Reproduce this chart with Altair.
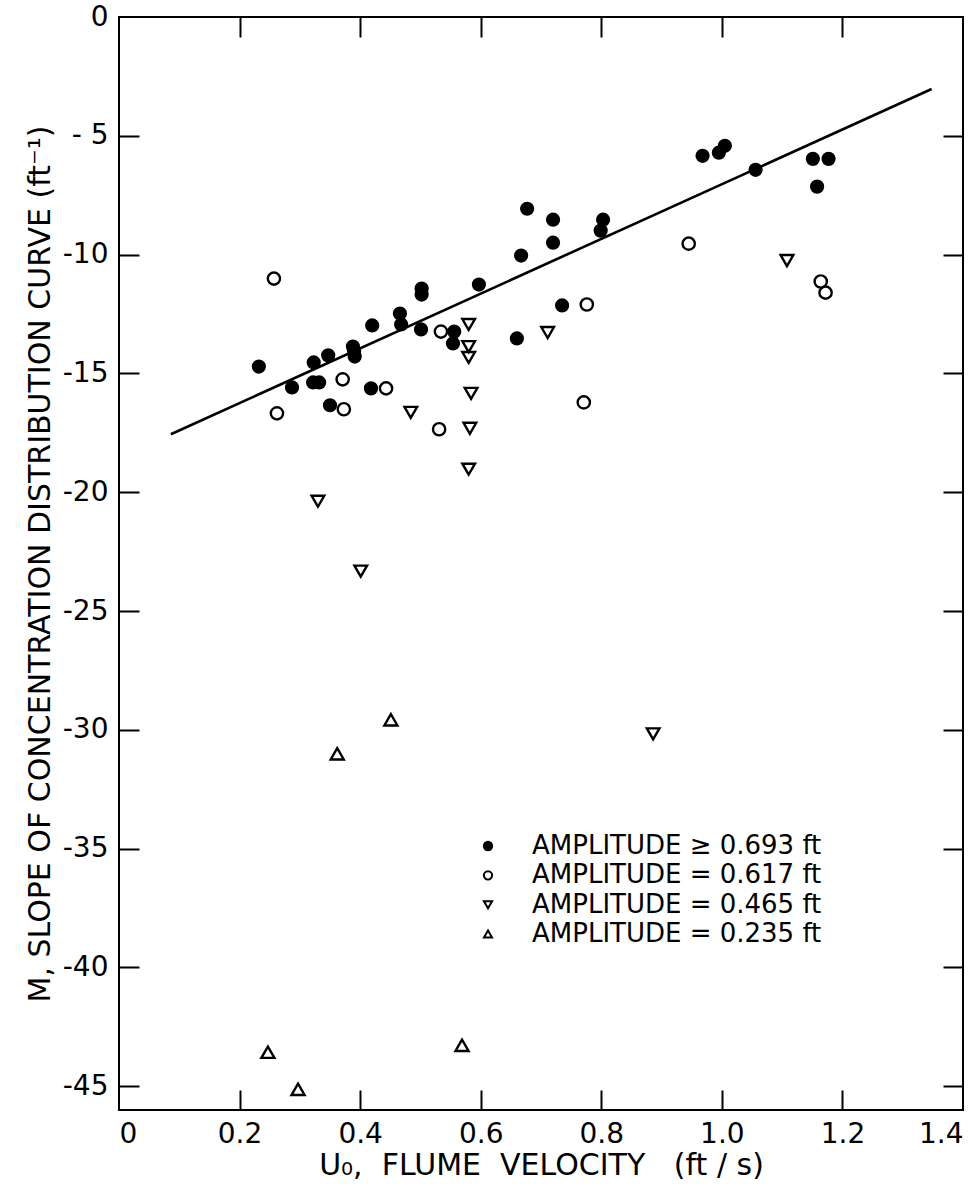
import altair as alt
import pandas as pd

# ---- data ----
filled_u = [0.232, 0.287, 0.323, 0.347, 0.322, 0.332, 0.350, 0.420, 0.388, 0.390,
            0.391, 0.418, 0.466, 0.468, 0.501, 0.502, 0.502, 0.556, 0.554, 0.597,
            0.660, 0.667, 0.677, 0.720, 0.720, 0.735, 0.803, 0.799, 0.968, 0.995,
            1.005, 1.056, 1.151, 1.177, 1.158]
filled_m = [-14.71, -15.59, -14.54, -14.24, -15.38, -15.38, -16.34, -12.98, -13.87, -14.08,
            -14.29, -15.63, -12.48, -12.94, -13.15, -11.43, -11.68, -13.24, -13.74, -11.26,
            -13.53, -10.04, -8.07, -8.53, -9.50, -12.14, -8.53, -8.99, -5.84, -5.71,
            -5.42, -6.43, -5.97, -5.97, -7.14]

open_u = [0.257, 0.262, 0.371, 0.373, 0.443, 0.531, 0.534, 0.776, 0.771, 0.945, 1.164, 1.172]
open_m = [-11.01, -16.68, -15.25, -16.51, -15.63, -17.35, -13.24, -12.10, -16.22, -9.54, -11.13, -11.60]

tdown_u = [0.330, 0.401, 0.484, 0.580, 0.580, 0.580, 0.584, 0.582, 0.580, 0.711, 1.108, 0.886]
tdown_m = [-20.38, -23.32, -16.64, -12.94, -13.87, -14.33, -15.84, -17.31, -19.03, -13.28, -10.25, -30.17]

tup_u = [0.451, 0.362, 0.247, 0.297, 0.569]
tup_m = [-29.58, -31.01, -43.57, -45.13, -43.28]

fit_u = [0.086, 1.348]
fit_m = [-17.56, -3.03]

groups = ["AMPLITUDE \u2265 0.693 ft", "AMPLITUDE = 0.617 ft",
          "AMPLITUDE = 0.465 ft", "AMPLITUDE = 0.235 ft"]

x_ticks = [0.2, 0.4, 0.6, 0.8, 1.0, 1.2]
x_labels = [0, 0.2, 0.4, 0.6, 0.8, 1.0, 1.2, 1.4]
y_ticks = [-5, -10, -15, -20, -25, -30, -35, -40, -45]
y_labels = [0, -5, -10, -15, -20, -25, -30, -35, -40, -45]

# ---- tables ----
rows = []
for us, ms, g in [(filled_u, filled_m, groups[0]), (open_u, open_m, groups[1]),
                  (tdown_u, tdown_m, groups[2]), (tup_u, tup_m, groups[3])]:
    for u, m in zip(us, ms):
        rows.append({"u": u, "m": m, "group": g})
pts = pd.DataFrame(rows)
fit = pd.DataFrame({"u": fit_u, "m": fit_m})
leg_df = pd.DataFrame({"group": groups})

W, H = 844, 1093
FONT = "DejaVu Sans"
xscale = alt.Scale(domain=[0, 1.4], nice=False, zero=False)
yscale = alt.Scale(domain=[-46, 0], nice=False, zero=False)
shape_enc = alt.Shape("group:N", scale=alt.Scale(domain=groups,
                      range=["circle", "circle", "triangle-down", "triangle-up"]), legend=None)
fill_enc = alt.Fill("group:N", scale=alt.Scale(domain=groups,
                    range=["black", "transparent", "transparent", "transparent"]), legend=None)

points = alt.Chart(pts).mark_point(stroke="black", strokeWidth=2.4, opacity=1).encode(
    x=alt.X("u:Q", scale=xscale, axis=alt.Axis(
        values=x_labels, labelExpr="datum.value == 0 ? '0' : format(datum.value, '.1f')",
        title="U\u2080,\u00a0 FLUME\u00a0 VELOCITY\u00a0\u00a0 (ft / s)",
        tickSize=0, domain=False, grid=False, labelPadding=10,
        titleY=55, titleBaseline="middle")),
    y=alt.Y("m:Q", scale=yscale, axis=alt.Axis(
        values=y_labels,
        labelExpr="datum.value == 0 ? '0' : (abs(datum.value) < 10 ? '- ' : '-') + abs(datum.value)",
        title="M, SLOPE OF CONCENTRATION DISTRIBUTION CURVE (ft\u207b\u00b9)",
        tickSize=0, domain=False, grid=False, labelPadding=11,
        titleX=-79, titleBaseline="middle")),
    shape=shape_enc,
    fill=fill_enc,
    size=alt.Size("group:N", scale=alt.Scale(domain=groups, range=[140, 170, 340, 340]),
                  legend=None),
)

line = alt.Chart(fit).mark_line(color="black", strokeWidth=2.6).encode(
    x=alt.X("u:Q", scale=xscale, axis=alt.Axis(
        orient="top", offset=-H, values=x_ticks, labels=False, title=None,
        tickSize=20, tickWidth=2, tickColor="black", domain=False, grid=False)),
    y=alt.Y("m:Q", scale=yscale, axis=alt.Axis(
        orient="right", offset=-W, values=y_ticks, labels=False, title=None,
        tickSize=20, tickWidth=2, tickColor="black", domain=False, grid=False)),
)

ghost = alt.Chart(fit).mark_point(opacity=0).encode(
    x=alt.X("u:Q", scale=xscale, axis=alt.Axis(
        orient="bottom", offset=-H, values=x_ticks, labels=False, title=None,
        tickSize=20, tickWidth=2, tickColor="black", domain=False, grid=False)),
    y=alt.Y("m:Q", scale=yscale, axis=alt.Axis(
        orient="left", offset=-W, values=y_ticks, labels=False, title=None,
        tickSize=20, tickWidth=2, tickColor="black", domain=False, grid=False)),
)

# legend drawn as its own layer (rows placed by a point scale)
leg_y = alt.Y("group:N", scale=alt.Scale(type="point", domain=groups, range=[829, 917], padding=0),
              axis=None)
leg_sym = alt.Chart(leg_df).mark_point(stroke="black", strokeWidth=2, opacity=1).encode(
    x=alt.value(369), y=leg_y, shape=shape_enc, fill=fill_enc,
    size=alt.Size("group:N", scale=alt.Scale(domain=groups, range=[70, 65, 110, 110]), legend=None),
)
leg_txt = alt.Chart(leg_df).mark_text(
    align="left", baseline="middle", font=FONT, fontSize=26, color="black"
).encode(x=alt.value(413), y=leg_y, text="group:N")

chart = alt.layer(points, line, ghost, leg_sym, leg_txt).resolve_axis(
    x="independent", y="independent"
).resolve_scale(
    y="independent", size="independent"
).properties(
    width=W, height=H,
    padding={"left": 119, "top": 17, "right": 11, "bottom": 76},
    autosize=alt.AutoSizeParams(type="none"),
    background="white",
).configure_view(
    stroke="black", strokeWidth=2
).configure_axis(
    labelFont=FONT, titleFont=FONT, labelFontSize=28, titleFontSize=30,
    labelColor="black", titleColor="black", titleFontWeight="normal",
)

chart.save("out.html", embed_options={"renderer": "svg", "actions": False})
